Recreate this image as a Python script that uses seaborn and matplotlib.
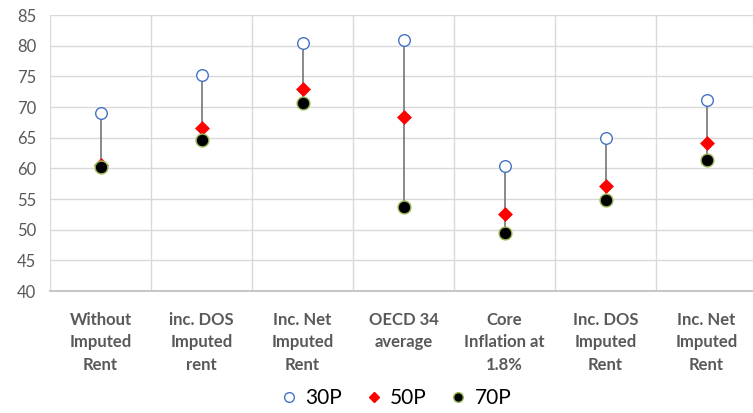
import matplotlib
matplotlib.use("Agg")
import matplotlib.pyplot as plt
from matplotlib.lines import Line2D
import seaborn as sns
import pandas as pd
import numpy as np

categories = [
    "Without\nImputed\nRent",
    "inc. DOS\nImputed\nrent",
    "Inc. Net\nImputed\nRent",
    "OECD 34\naverage",
    "Core\nInflation at\n1.8%",
    "Inc. DOS\nImputed\nRent",
    "Inc. Net\nImputed\nRent",
]
p30 = [69.0, 75.2, 80.4, 80.9, 60.4, 64.9, 71.1]
p50 = [60.5, 66.6, 72.9, 68.4, 52.6, 57.1, 64.1]
p70 = [60.2, 64.6, 70.7, 53.7, 49.5, 54.8, 61.4]
y_ticks = [40, 45, 50, 55, 60, 65, 70, 75, 80, 85]

sns.set_theme(style="white")
plt.rcParams["font.family"] = ["Lato", "DejaVu Sans"]

text_color = "#595959"
grid_color = "#d9d9d9"

pos = np.arange(len(categories))
df = pd.DataFrame({"pos": pos, "p30": p30, "p50": p50, "p70": p70})

fig = plt.figure(figsize=(7.53, 4.13), dpi=100)
ax = fig.add_axes([50 / 753, (413 - 291) / 413, 707 / 753, 276 / 413])

# range line from the low to the high percentile
ax.vlines(df["pos"], df[["p30", "p70"]].min(axis=1), df[["p30", "p70"]].max(axis=1),
          color="#808080", lw=1.3, zorder=2)

sns.scatterplot(data=df, x="pos", y="p30", ax=ax, marker="o", s=70,
                facecolor="white", edgecolor="#4472c4", linewidth=1.0, zorder=3)
sns.scatterplot(data=df, x="pos", y="p50", ax=ax, marker="D", s=50,
                color="#ff0000", edgecolor="#ff0000", linewidth=0.5, zorder=4)
sns.scatterplot(data=df, x="pos", y="p70", ax=ax, marker="o", s=85,
                color="black", edgecolor="#9bbb59", linewidth=1.0, zorder=5)

ax.set_xlim(-0.5, len(categories) - 0.5)
ax.set_ylim(40, 85)
ax.set_yticks(y_ticks)
ax.set_xticks(pos)
ax.set_xticklabels(categories, fontsize=12, fontweight="bold", color=text_color,
                   linespacing=1.5)
ax.set_xticks(np.arange(-0.5, len(categories), 1.0), minor=True)
ax.tick_params(axis="y", labelsize=12, labelcolor=text_color, length=0, pad=10)
ax.tick_params(axis="x", which="both", length=0, pad=15)

ax.grid(axis="y", which="major", color=grid_color, lw=1.0, zorder=0)
ax.grid(axis="x", which="minor", color=grid_color, lw=1.0, zorder=0)
ax.set_axisbelow(True)
for side in ["top", "right", "left"]:
    ax.spines[side].set_visible(False)
ax.spines["bottom"].set_color("#bfbfbf")
ax.set_xlabel("")
ax.set_ylabel("")

handles = [
    Line2D([], [], marker="o", ls="none", markersize=7, markerfacecolor="white",
           markeredgecolor="#4472c4", markeredgewidth=1.0),
    Line2D([], [], marker="D", ls="none", markersize=5.5, color="#ff0000"),
    Line2D([], [], marker="o", ls="none", markersize=7, markerfacecolor="black",
           markeredgecolor="#9bbb59"),
]
fig.legend(handles, ["30P", "50P", "70P"], loc="center", bbox_to_anchor=(395 / 753, 1 - 398 / 413),
           ncol=3, frameon=False, fontsize=15, labelcolor="black", handletextpad=0.3,
           columnspacing=1.0, handlelength=1.0)

fig.savefig("out.png", dpi=100, facecolor="white")
